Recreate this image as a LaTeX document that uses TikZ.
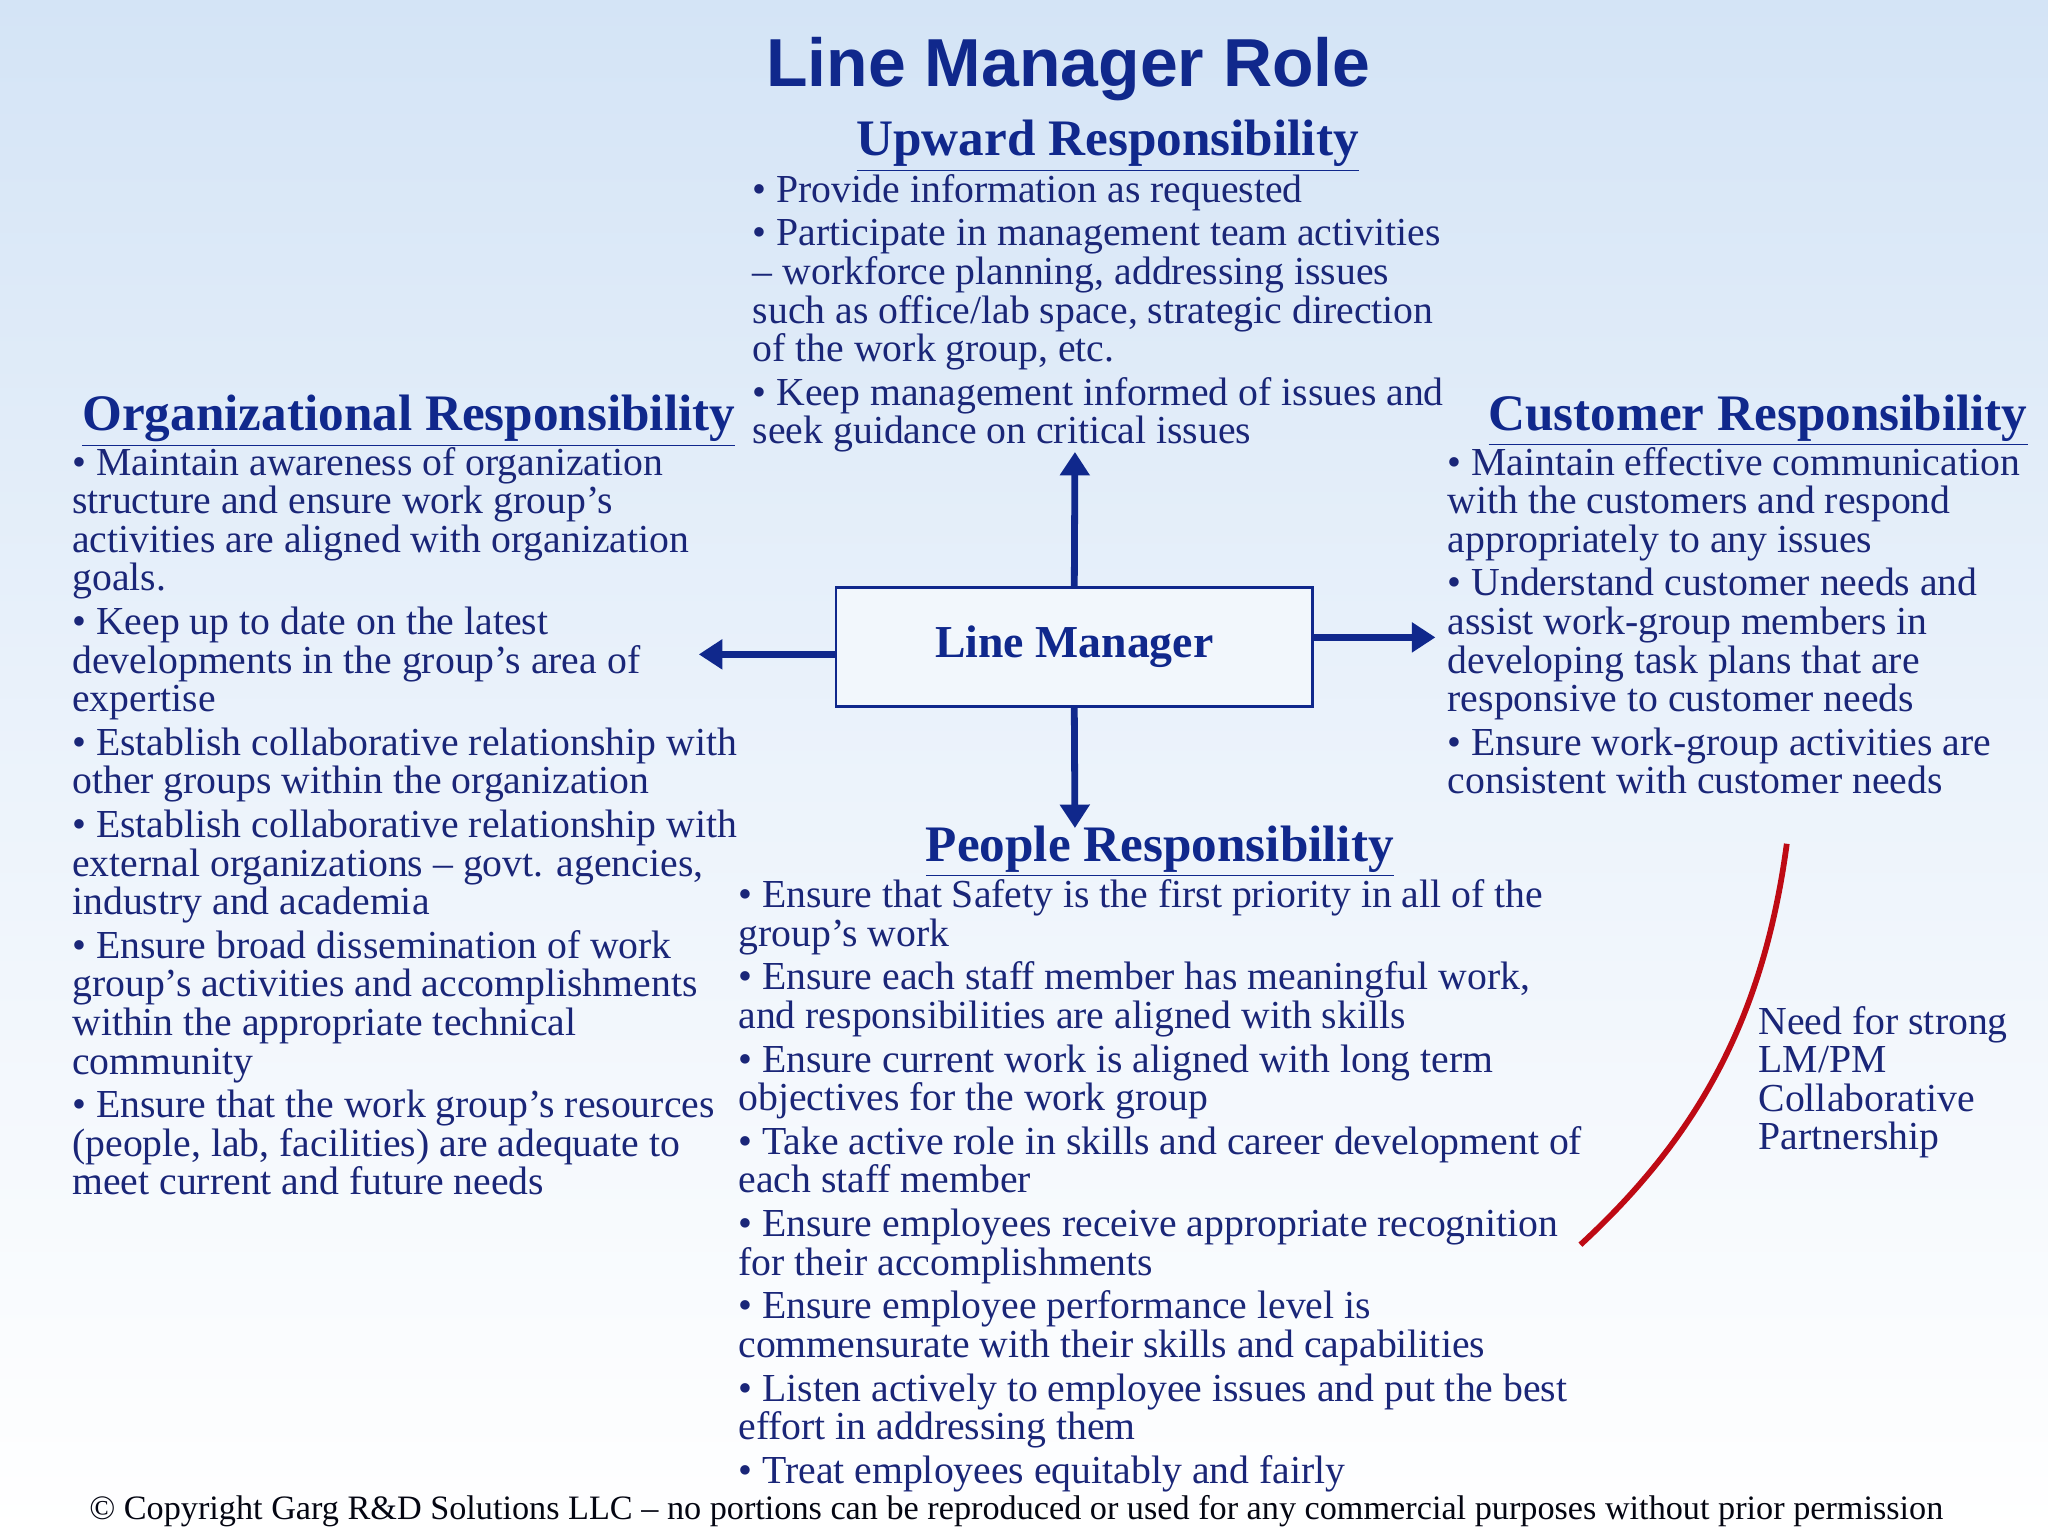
\documentclass[tikz,border=0pt]{standalone}
\usepackage{fontspec}
\setmainfont{Liberation Serif}
\newfontfamily\titlefont{Liberation Sans}
\usetikzlibrary{arrows.meta}
\definecolor{navy}{RGB}{16,40,140}
\definecolor{bodyc}{RGB}{26,38,120}
\definecolor{bgtop}{RGB}{212,228,246}
\definecolor{redc}{RGB}{190,10,20}
\tikzset{
 body/.style={anchor=north west,align=left,inner sep=0pt,text=bodyc,font=\fontsize{15.2}{14.75}\selectfont},
 head/.style={inner sep=0pt,text=navy,font=\fontsize{19.6}{22}\selectfont\bfseries},
 arr/.style={draw=navy,line width=2.6pt,-{Triangle[length=9pt,width=11pt]}},
}
\newcommand{\ul}[1]{\underline{#1}}
\begin{document}
\begin{tikzpicture}[x=0.5pt,y=-0.5pt]
\shade[top color=bgtop,bottom color=white,middle color=white!55!bgtop] (0,0) rectangle (1568,1176);
\useasboundingbox (0,0) rectangle (1568,1176);
\node[text=navy,font=\titlefont\fontsize{26}{28}\selectfont\bfseries] (title) at (818,53) {Line Manager Role};
% Upward
\node[head] (uph) at (848,112) {\ul{Upward Responsibility}};
\node[body] (upb) at (576,133) {• Provide information as requested\\[2pt]
• Participate in management team activities\\
– workforce planning, addressing issues\\
such as office/lab space, strategic direction\\
of the work group, etc.\\[2pt]
• Keep management informed of issues and\\
seek guidance on critical issues};
% Organizational
\node[head] (orgh) at (313,322) {\ul{Organizational Responsibility}};
\node[body] (orgb) at (55,342) {• Maintain awareness of organization\\
structure and ensure work group’s\\
activities are aligned with organization\\
goals.\\[2pt]
• Keep up to date on the latest\\
developments in the group’s area of\\
expertise\\[2pt]
• Establish collaborative relationship with\\
other groups within the organization\\[2pt]
• Establish collaborative relationship with\\
external organizations – govt. agencies,\\
industry and academia\\[2pt]
• Ensure broad dissemination of work\\
group’s activities and accomplishments\\
within the appropriate technical\\
community\\[2pt]
• Ensure that the work group's resources\\
(people, lab, facilities) are adequate to\\
meet current and future needs};
% Customer
\node[head] (cush) at (1346,322) {\ul{Customer Responsibility}};
\node[body] (cusb) at (1108,342) {• Maintain effective communication\\
with the customers and respond\\
appropriately to any issues\\[2pt]
• Understand customer needs and\\
assist work-group members in\\
developing task plans that are\\
responsive to customer needs\\[2pt]
• Ensure work-group activities are\\
consistent with customer needs};
% People
\node[head] (peoh) at (888,652) {\ul{People Responsibility}};
\node[body] (peob) at (565,673) {• Ensure that Safety is the first priority in all of the\\
group’s work\\[2pt]
• Ensure each staff member has meaningful work,\\
and responsibilities are aligned with skills\\[2pt]
• Ensure current work is aligned with long term\\
objectives for the work group\\[2pt]
• Take active role in skills and career development of\\
each staff member\\[2pt]
• Ensure employees receive appropriate recognition\\
for their accomplishments\\[2pt]
• Ensure employee performance level is\\
commensurate with their skills and capabilities\\[2pt]
• Listen actively to employee issues and put the best\\
effort in addressing them\\[2pt]
• Treat employees equitably and fairly};
% Line manager box
\node[draw=navy,line width=1pt,fill=white!70!bgtop,minimum width=182.5pt,minimum height=45.5pt,text=navy,font=\fontsize{17.5}{20}\selectfont\bfseries] (lm) at (822.5,495.5) {Line Manager};
\coordinate (upend) at (823,346);
\coordinate (downend) at (823,634);
\coordinate (leftend) at (535,501);
\coordinate (rightend) at (1099,488);
\draw[arr] (lm.north) -- (upend);
\draw[arr] (lm.south) -- (downend);
\draw[arr] (lm.west |- leftend) -- (leftend);
\draw[arr] (lm.east |- rightend) -- (rightend);
% red arc
\coordinate (ra) at (1368,646);
\coordinate (rb) at (1210,953);
\draw[redc,line width=2.2pt] (ra) .. controls (1350,780) and (1300,870) .. (rb);
\node[body] (need) at (1346,770) {Need for strong\\LM/PM\\Collaborative\\Partnership};
\node[anchor=west,inner sep=0pt,text=black!85!bodyc,font=\fontsize{13.1}{14}\selectfont] (copy) at (68,1157) {© Copyright Garg R\&D Solutions LLC – no portions can be reproduced or used for any commercial purposes without prior permission};
\end{tikzpicture}
\end{document}
